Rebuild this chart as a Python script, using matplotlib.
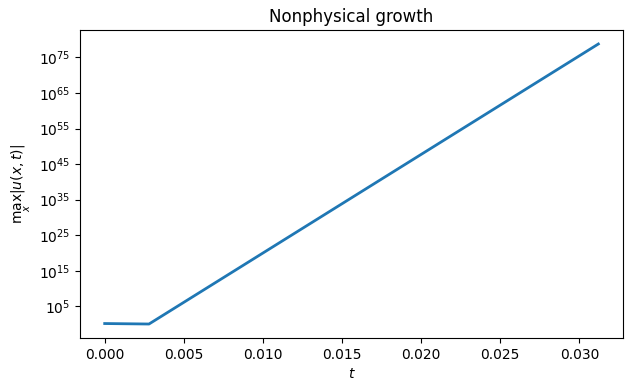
import numpy as np
import matplotlib
matplotlib.use('Agg')
import matplotlib.pyplot as plt

# max_x |u(x,t)| (log scale)
t = [0.0, 0.0028, 0.0312]
umax = [1.5, 1.1, 6e78]
ytick_exps = [5, 15, 25, 35, 45, 55, 65, 75]

fig = plt.figure(figsize=(6.32, 3.91), dpi=100)
ax = fig.add_axes([0.1266, 0.1355, 0.8592, 0.7878])
ax.semilogy(t, umax, lw=2)
ax.set_yticks([10.0**e for e in ytick_exps])
ax.yaxis.set_minor_locator(matplotlib.ticker.NullLocator())
ax.set_title('Nonphysical growth')
ax.set_xlabel('$t$')
ax.set_ylabel(r'$\max_x |u(x,t)|$')
fig.savefig('out.png')
